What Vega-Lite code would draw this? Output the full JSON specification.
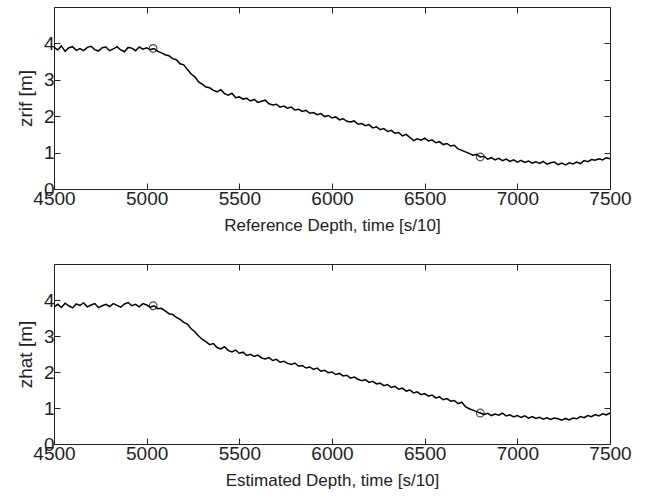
{
  "$schema": "https://vega.github.io/schema/vega-lite/v6.json",
  "background": "white",
  "padding": {"left": 15, "top": 6, "right": 5, "bottom": 5},
  "bounds": "flush",
  "spacing": 75,
  "config": {
    "view": {"stroke": "#222", "strokeWidth": 1},
    "axis": {
      "domain": false, "grid": false,
      "tickColor": "#222", "tickSize": -6, "tickWidth": 1,
      "labelColor": "#222", "labelFont": "Liberation Sans", "labelFontSize": 19,
      "titleColor": "#222", "titleFont": "Liberation Sans", "titleFontWeight": "normal"
    }
  },
  "datasets": {
    "zrif": [
      {"t":4500,"z":3.90},{"t":4520,"z":3.82},{"t":4540,"z":3.93},{"t":4560,"z":3.78},{"t":4580,"z":3.88},{"t":4600,"z":3.91},{"t":4620,"z":3.81},{"t":4640,"z":3.86},{"t":4660,"z":3.80},{"t":4680,"z":3.89},
      {"t":4700,"z":3.92},{"t":4720,"z":3.83},{"t":4740,"z":3.79},{"t":4760,"z":3.88},{"t":4780,"z":3.90},{"t":4800,"z":3.80},{"t":4820,"z":3.85},{"t":4840,"z":3.91},{"t":4860,"z":3.82},{"t":4880,"z":3.77},
      {"t":4900,"z":3.89},{"t":4920,"z":3.87},{"t":4940,"z":3.80},{"t":4960,"z":3.90},{"t":4980,"z":3.84},{"t":5000,"z":3.88},{"t":5020,"z":3.83},{"t":5040,"z":3.86},{"t":5060,"z":3.78},{"t":5080,"z":3.74},
      {"t":5100,"z":3.69},{"t":5120,"z":3.66},{"t":5140,"z":3.58},{"t":5160,"z":3.55},{"t":5180,"z":3.44},{"t":5200,"z":3.41},{"t":5220,"z":3.28},{"t":5240,"z":3.16},{"t":5260,"z":3.08},{"t":5280,"z":2.94},
      {"t":5300,"z":2.88},{"t":5320,"z":2.80},{"t":5340,"z":2.78},{"t":5360,"z":2.71},{"t":5380,"z":2.67},{"t":5400,"z":2.73},{"t":5420,"z":2.62},{"t":5440,"z":2.58},{"t":5460,"z":2.63},{"t":5480,"z":2.51},
      {"t":5500,"z":2.53},{"t":5520,"z":2.47},{"t":5540,"z":2.49},{"t":5560,"z":2.42},{"t":5580,"z":2.46},{"t":5600,"z":2.38},{"t":5620,"z":2.41},{"t":5640,"z":2.44},{"t":5660,"z":2.34},{"t":5680,"z":2.31},
      {"t":5700,"z":2.33},{"t":5720,"z":2.25},{"t":5740,"z":2.28},{"t":5760,"z":2.22},{"t":5780,"z":2.25},{"t":5800,"z":2.17},{"t":5820,"z":2.19},{"t":5840,"z":2.13},{"t":5860,"z":2.16},{"t":5880,"z":2.08},
      {"t":5900,"z":2.10},{"t":5920,"z":2.04},{"t":5940,"z":2.07},{"t":5960,"z":1.99},{"t":5980,"z":2.02},{"t":6000,"z":1.95},{"t":6020,"z":1.98},{"t":6040,"z":1.90},{"t":6060,"z":1.93},{"t":6080,"z":1.86},
      {"t":6100,"z":1.84},{"t":6120,"z":1.87},{"t":6140,"z":1.78},{"t":6160,"z":1.80},{"t":6180,"z":1.74},{"t":6200,"z":1.77},{"t":6220,"z":1.68},{"t":6240,"z":1.71},{"t":6260,"z":1.63},{"t":6280,"z":1.66},
      {"t":6300,"z":1.58},{"t":6320,"z":1.61},{"t":6340,"z":1.53},{"t":6360,"z":1.55},{"t":6380,"z":1.46},{"t":6400,"z":1.50},{"t":6420,"z":1.42},{"t":6440,"z":1.33},{"t":6460,"z":1.38},{"t":6480,"z":1.34},
      {"t":6500,"z":1.40},{"t":6520,"z":1.32},{"t":6540,"z":1.35},{"t":6560,"z":1.27},{"t":6580,"z":1.30},{"t":6600,"z":1.22},{"t":6620,"z":1.25},{"t":6640,"z":1.18},{"t":6660,"z":1.20},{"t":6680,"z":1.10},
      {"t":6700,"z":1.06},{"t":6720,"z":1.02},{"t":6740,"z":0.98},{"t":6760,"z":0.93},{"t":6780,"z":0.95},{"t":6800,"z":0.88},{"t":6820,"z":0.90},{"t":6840,"z":0.82},{"t":6860,"z":0.86},{"t":6880,"z":0.80},
      {"t":6900,"z":0.84},{"t":6920,"z":0.78},{"t":6940,"z":0.82},{"t":6960,"z":0.76},{"t":6980,"z":0.80},{"t":7000,"z":0.74},{"t":7020,"z":0.79},{"t":7040,"z":0.73},{"t":7060,"z":0.77},{"t":7080,"z":0.71},
      {"t":7100,"z":0.75},{"t":7120,"z":0.70},{"t":7140,"z":0.76},{"t":7160,"z":0.68},{"t":7180,"z":0.72},{"t":7200,"z":0.74},{"t":7220,"z":0.67},{"t":7240,"z":0.71},{"t":7260,"z":0.66},{"t":7280,"z":0.72},
      {"t":7300,"z":0.69},{"t":7320,"z":0.74},{"t":7340,"z":0.70},{"t":7360,"z":0.78},{"t":7380,"z":0.75},{"t":7400,"z":0.81},{"t":7420,"z":0.79},{"t":7440,"z":0.83},{"t":7460,"z":0.80},{"t":7480,"z":0.86},
      {"t":7500,"z":0.83}
    ],
    "zrif_pts": [{"t":5035,"z":3.86},{"t":6800,"z":0.88}],
    "zhat": [
      {"t":4500,"z":3.80},{"t":4520,"z":3.88},{"t":4540,"z":3.79},{"t":4560,"z":3.91},{"t":4580,"z":3.84},{"t":4600,"z":3.78},{"t":4620,"z":3.89},{"t":4640,"z":3.85},{"t":4660,"z":3.92},{"t":4680,"z":3.81},
      {"t":4700,"z":3.86},{"t":4720,"z":3.90},{"t":4740,"z":3.79},{"t":4760,"z":3.84},{"t":4780,"z":3.88},{"t":4800,"z":3.82},{"t":4820,"z":3.90},{"t":4840,"z":3.85},{"t":4860,"z":3.80},{"t":4880,"z":3.89},
      {"t":4900,"z":3.93},{"t":4920,"z":3.84},{"t":4940,"z":3.88},{"t":4960,"z":3.81},{"t":4980,"z":3.90},{"t":5000,"z":3.86},{"t":5020,"z":3.80},{"t":5040,"z":3.84},{"t":5060,"z":3.76},{"t":5080,"z":3.77},
      {"t":5100,"z":3.70},{"t":5120,"z":3.62},{"t":5140,"z":3.60},{"t":5160,"z":3.52},{"t":5180,"z":3.46},{"t":5200,"z":3.38},{"t":5220,"z":3.33},{"t":5240,"z":3.20},{"t":5260,"z":3.12},{"t":5280,"z":3.00},
      {"t":5300,"z":2.91},{"t":5320,"z":2.84},{"t":5340,"z":2.76},{"t":5360,"z":2.79},{"t":5380,"z":2.68},{"t":5400,"z":2.64},{"t":5420,"z":2.70},{"t":5440,"z":2.60},{"t":5460,"z":2.56},{"t":5480,"z":2.61},
      {"t":5500,"z":2.52},{"t":5520,"z":2.55},{"t":5540,"z":2.46},{"t":5560,"z":2.49},{"t":5580,"z":2.43},{"t":5600,"z":2.47},{"t":5620,"z":2.39},{"t":5640,"z":2.36},{"t":5660,"z":2.40},{"t":5680,"z":2.32},
      {"t":5700,"z":2.35},{"t":5720,"z":2.27},{"t":5740,"z":2.30},{"t":5760,"z":2.24},{"t":5780,"z":2.21},{"t":5800,"z":2.25},{"t":5820,"z":2.16},{"t":5840,"z":2.18},{"t":5860,"z":2.11},{"t":5880,"z":2.14},
      {"t":5900,"z":2.07},{"t":5920,"z":2.11},{"t":5940,"z":2.02},{"t":5960,"z":2.05},{"t":5980,"z":1.98},{"t":6000,"z":2.00},{"t":6020,"z":1.93},{"t":6040,"z":1.96},{"t":6060,"z":1.89},{"t":6080,"z":1.91},
      {"t":6100,"z":1.83},{"t":6120,"z":1.86},{"t":6140,"z":1.80},{"t":6160,"z":1.76},{"t":6180,"z":1.79},{"t":6200,"z":1.71},{"t":6220,"z":1.74},{"t":6240,"z":1.67},{"t":6260,"z":1.69},{"t":6280,"z":1.62},
      {"t":6300,"z":1.65},{"t":6320,"z":1.57},{"t":6340,"z":1.60},{"t":6360,"z":1.52},{"t":6380,"z":1.55},{"t":6400,"z":1.47},{"t":6420,"z":1.50},{"t":6440,"z":1.42},{"t":6460,"z":1.45},{"t":6480,"z":1.37},
      {"t":6500,"z":1.40},{"t":6520,"z":1.33},{"t":6540,"z":1.36},{"t":6560,"z":1.28},{"t":6580,"z":1.31},{"t":6600,"z":1.23},{"t":6620,"z":1.26},{"t":6640,"z":1.19},{"t":6660,"z":1.21},{"t":6680,"z":1.12},
      {"t":6700,"z":1.16},{"t":6720,"z":1.04},{"t":6740,"z":0.98},{"t":6760,"z":0.94},{"t":6780,"z":0.90},{"t":6800,"z":0.86},{"t":6820,"z":0.82},{"t":6840,"z":0.85},{"t":6860,"z":0.79},{"t":6880,"z":0.83},
      {"t":6900,"z":0.80},{"t":6920,"z":0.86},{"t":6940,"z":0.78},{"t":6960,"z":0.81},{"t":6980,"z":0.75},{"t":7000,"z":0.79},{"t":7020,"z":0.74},{"t":7040,"z":0.78},{"t":7060,"z":0.72},{"t":7080,"z":0.76},
      {"t":7100,"z":0.71},{"t":7120,"z":0.74},{"t":7140,"z":0.69},{"t":7160,"z":0.73},{"t":7180,"z":0.68},{"t":7200,"z":0.72},{"t":7220,"z":0.70},{"t":7240,"z":0.66},{"t":7260,"z":0.71},{"t":7280,"z":0.67},
      {"t":7300,"z":0.72},{"t":7320,"z":0.70},{"t":7340,"z":0.76},{"t":7360,"z":0.73},{"t":7380,"z":0.79},{"t":7400,"z":0.76},{"t":7420,"z":0.82},{"t":7440,"z":0.78},{"t":7460,"z":0.84},{"t":7480,"z":0.81},
      {"t":7500,"z":0.86}
    ],
    "zhat_pts": [{"t":5035,"z":3.84},{"t":6800,"z":0.86}]
  },
  "vconcat": [
    {
      "width": 556, "height": 182,
      "resolve": {"axis": {"x": "independent", "y": "independent"}},
      "layer": [
        {
          "data": {"name": "zrif"},
          "mark": {"type": "line", "color": "black", "strokeWidth": 1.5},
          "encoding": {
            "x": {"field": "t", "type": "quantitative", "scale": {"domain": [4500, 7500], "nice": false},
                  "axis": {"values": [4500, 5000, 5500, 6000, 6500, 7000, 7500], "format": "d", "labelPadding": 6, "labelFlush": false, "title": "Reference Depth, time [s/10]", "titleFontSize": 17, "titlePadding": 9}},
            "y": {"field": "z", "type": "quantitative", "scale": {"domain": [0, 5], "nice": false},
                  "axis": {"values": [0, 1, 2, 3, 4], "format": "d", "labelPadding": 6, "labelFlush": false, "title": "zrif [m]", "titleFontSize": 19, "titlePadding": 8}}
          }
        },
        {
          "data": {"name": "zrif_pts"},
          "mark": {"type": "point", "shape": "circle", "filled": false, "stroke": "black", "strokeWidth": 1.1, "size": 60},
          "encoding": {
            "x": {"field": "t", "type": "quantitative", "axis": {"orient": "top", "labels": false, "title": null, "values": [4500, 5000, 5500, 6000, 6500, 7000, 7500]}},
            "y": {"field": "z", "type": "quantitative", "axis": {"orient": "right", "labels": false, "title": null, "values": [0, 1, 2, 3, 4]}}
          }
        }
      ]
    },
    {
      "width": 556, "height": 180,
      "resolve": {"axis": {"x": "independent", "y": "independent"}},
      "layer": [
        {
          "data": {"name": "zhat"},
          "mark": {"type": "line", "color": "black", "strokeWidth": 1.5},
          "encoding": {
            "x": {"field": "t", "type": "quantitative", "scale": {"domain": [4500, 7500], "nice": false},
                  "axis": {"values": [4500, 5000, 5500, 6000, 6500, 7000, 7500], "format": "d", "labelPadding": 6, "labelFlush": false, "title": "Estimated Depth, time [s/10]", "titleFontSize": 17, "titlePadding": 9}},
            "y": {"field": "z", "type": "quantitative", "scale": {"domain": [0, 5], "nice": false},
                  "axis": {"values": [0, 1, 2, 3, 4], "format": "d", "labelPadding": 6, "labelFlush": false, "title": "zhat [m]", "titleFontSize": 19, "titlePadding": 8}}
          }
        },
        {
          "data": {"name": "zhat_pts"},
          "mark": {"type": "point", "shape": "circle", "filled": false, "stroke": "black", "strokeWidth": 1.1, "size": 60},
          "encoding": {
            "x": {"field": "t", "type": "quantitative", "axis": {"orient": "top", "labels": false, "title": null, "values": [4500, 5000, 5500, 6000, 6500, 7000, 7500]}},
            "y": {"field": "z", "type": "quantitative", "axis": {"orient": "right", "labels": false, "title": null, "values": [0, 1, 2, 3, 4]}}
          }
        }
      ]
    }
  ]
}
